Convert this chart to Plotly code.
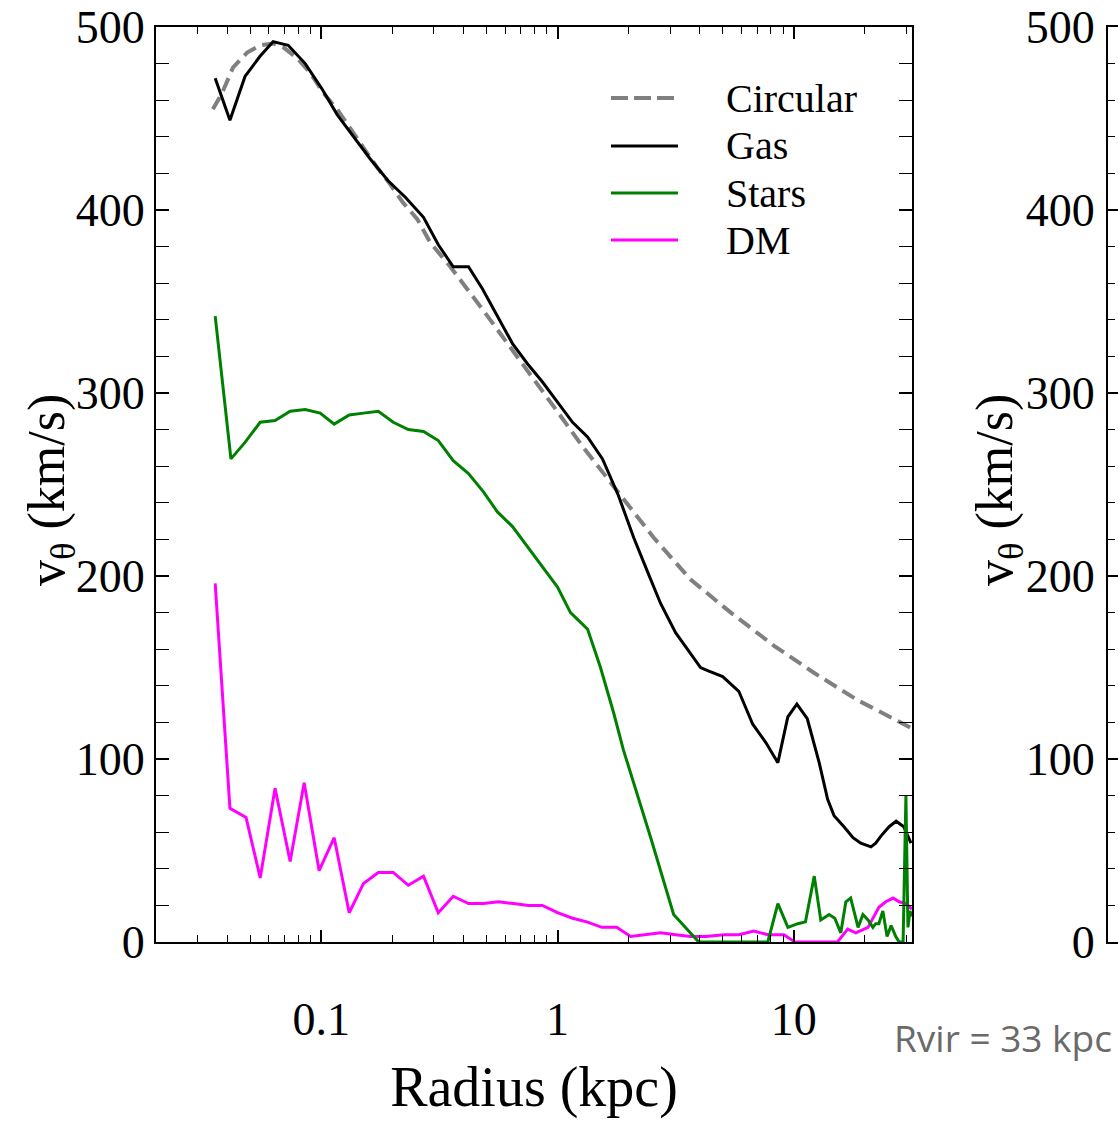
import plotly.graph_objects as go

W, H = 1118, 1121

# ---------------- data ----------------
circ_r = [0.0348, 0.0381, 0.0424, 0.0486, 0.0552, 0.0626, 0.0690, 0.0791, 0.0898, 0.102,
          0.117, 0.133, 0.151, 0.173, 0.196, 0.222, 0.255, 0.290, 0.352, 0.486,
          0.677, 0.934, 1.29, 1.85, 2.55, 3.66, 5.41, 8.22, 12.2, 18.7, 31.3]
circ_v = [455, 464, 478, 486, 490, 491, 489, 483, 475, 464,
          455, 444, 434, 423, 414, 404, 395, 382, 369, 345,
          320, 295, 270, 244, 221, 198, 180, 162, 147, 132, 117]

gas_r = [0.0356, 0.0411, 0.0476, 0.0551, 0.0626, 0.0725, 0.0856, 0.101, 0.117, 0.137,
         0.161, 0.192, 0.227, 0.271, 0.313, 0.362, 0.420, 0.481, 0.557, 0.645,
         0.746, 0.864, 1.0, 1.158, 1.34, 1.55, 1.81, 2.10, 2.41, 2.73,
         3.16, 3.56, 4.03, 4.37, 5.0, 5.85, 6.70, 7.61, 8.56, 9.43,
         10.3, 11.4, 12.8, 13.9, 14.8, 16.3, 17.8, 19.2, 21.2, 22.2,
         23.4, 25.3, 27.1, 29.2, 31.3]
gas_v = [472, 449, 473, 484, 492, 490, 480, 466, 452, 440,
         428, 416, 407, 396, 381, 369, 369, 357, 342, 327,
         316, 306, 295, 284, 276, 264, 244, 221, 202, 185,
         169, 160, 150, 148, 145, 137, 119, 109, 98, 123,
         130, 122, 98, 78, 69, 63, 57, 54, 52, 54,
         58, 63, 66, 63, 54]

stars_r = [0.0356, 0.0415, 0.0476, 0.0552, 0.0638, 0.0739, 0.0856, 0.099, 0.1135, 0.1314,
           0.151, 0.1745, 0.2018, 0.2337, 0.271, 0.313, 0.362, 0.420, 0.486, 0.557,
           0.645, 0.746, 0.864, 1.0, 1.135, 1.34, 1.52, 1.73, 1.90, 2.10,
           2.48, 3.10, 3.96, 7.76, 8.56, 9.44, 10.4, 11.2, 12.2, 13.0,
           14.1, 14.9, 15.8, 16.6, 17.4, 18.7, 19.6, 20.6, 21.6, 22.2,
           22.9, 23.8, 24.8, 25.8, 27.0, 27.9, 29.0, 29.8, 30.4, 31.0, 31.6]
stars_v = [342, 264, 273, 284, 285, 290, 291, 289, 283, 288,
           289, 290, 284, 280, 279, 274, 263, 256, 246, 235,
           227, 216, 205, 194, 180, 171, 150, 125, 105, 87,
           57, 15, 0, 0, 21, 8, 10, 11, 36, 12,
           15, 13, 5, 22, 24, 8, 15, 12, 8, 10,
           10, 17, 3, 9, 3, 0, 0, 80, 8, 17, 14]

dm_r = [0.0356, 0.0411, 0.0481, 0.0552, 0.0638, 0.0739, 0.0847, 0.098, 0.1135, 0.1314,
        0.151, 0.1745, 0.2018, 0.2337, 0.271, 0.313, 0.362, 0.420, 0.486, 0.562,
        0.651, 0.754, 0.863, 1.0, 1.158, 1.33, 1.54, 1.78, 2.04, 2.36,
        2.73, 3.16, 3.66, 4.24, 5.05, 5.85, 6.77, 7.76, 9.08, 10.1,
        15.3, 16.9, 18.3, 20.6, 22.9, 24.5, 26.3, 27.9, 29.8, 31.6]
dm_v = [196, 73, 68, 35, 84, 44, 87, 39, 57, 16,
        32, 38, 38, 31, 36, 16, 25, 21, 21, 22,
        21, 20, 20, 16, 13, 11, 8, 8, 3, 4,
        5, 4, 3, 3, 4, 4, 6, 4, 4, 0,
        0, 7, 5, 8, 19, 22, 24, 22, 21, 18]

series_names = ["Circular", "Gas", "Stars", "DM"]
x_tick_vals = [0.1, 1, 10]
x_tick_text = ["0.1", "1", "10"]
x_minor_vals = [0.02, 0.03, 0.04, 0.05, 0.06, 0.07, 0.08, 0.09,
                0.2, 0.3, 0.4, 0.5, 0.6, 0.7, 0.8, 0.9,
                2, 3, 4, 5, 6, 7, 8, 9, 20, 30]
y_tick_vals = [0, 100, 200, 300, 400, 500]
x_title = "Radius (kpc)"
y_title = "v<sub>θ</sub> (km/s)"
note_text = "Rvir = 33 kpc"

# ---------------- styling ----------------
SERIF = "Liberation Serif, Times New Roman, serif"
colors = {"Circular": "#808080", "Gas": "#000000", "Stars": "#008000", "DM": "#FF00FF"}
dashes = {"Circular": "14px,7px", "Gas": "solid", "Stars": "solid", "DM": "solid"}
widths = {"Circular": 4, "Gas": 3, "Stars": 3, "DM": 3}
XRANGE = [-1.699, 1.5]


def px_x(p):
    return p / W


def px_y(p):
    return 1 - p / H


fig = go.Figure()
data = {"Circular": (circ_r, circ_v), "Gas": (gas_r, gas_v),
        "DM": (dm_r, dm_v), "Stars": (stars_r, stars_v)}
for name in ["Circular", "Gas", "DM", "Stars"]:
    r, v = data[name]
    fig.add_trace(go.Scatter(x=r, y=v, mode="lines", name=name, showlegend=False,
                             line=dict(color=colors[name], width=widths[name], dash=dashes[name])))

# empty traces: second (cut-off) panel, and overlay axis carrying the x tick labels
fig.add_trace(go.Scatter(x=[], y=[], xaxis="x2", yaxis="y2", showlegend=False))
fig.add_trace(go.Scatter(x=[], y=[], xaxis="x3", yaxis="y", showlegend=False))

xdom = [px_x(156), px_x(912)]
ydom = [px_y(942), px_y(27)]
yminor = dict(ticks="inside", ticklen=7, tickcolor="black", tickwidth=1.2, dtick=20, showgrid=False)

fig.update_layout(
    width=W, height=H,
    margin=dict(l=0, r=0, t=0, b=0),
    paper_bgcolor="white", plot_bgcolor="white",
    showlegend=False,
    xaxis=dict(type="log", range=XRANGE, domain=xdom, anchor="y",
               tickmode="array", tickvals=x_tick_vals, showticklabels=False,
               ticks="inside", ticklen=12, tickwidth=1.5, tickcolor="black",
               minor=dict(ticks="inside", ticklen=7, tickcolor="black", tickwidth=1.2,
                          tickmode="array", tickvals=x_minor_vals, showgrid=False),
               showline=True, linecolor="black", linewidth=2, mirror="allticks",
               showgrid=False, zeroline=False),
    xaxis3=dict(type="log", range=XRANGE, domain=xdom, overlaying="x", anchor="y", side="bottom",
                tickmode="array", tickvals=x_tick_vals, ticktext=x_tick_text,
                ticks="", showline=False, showgrid=False, zeroline=False,
                tickfont=dict(family=SERIF, size=46, color="black"),
                ticklabelstandoff=46,
                title=dict(text=x_title, font=dict(family=SERIF, size=56, color="black"),
                           standoff=22)),
    yaxis=dict(range=[0, 500], domain=ydom, tickvals=y_tick_vals, ticklen=13,
               minor=yminor, anchor="x",
               ticks="inside", tickwidth=1.5, tickcolor="black",
               showline=True, linecolor="black", linewidth=2, mirror="allticks",
               showgrid=False, zeroline=False, automargin=False,
               tickfont=dict(family=SERIF, size=46, color="black"),
               ticklabelstandoff=0),
    xaxis2=dict(domain=[px_x(1108), 1.0], range=[0, 1], showline=True, linecolor="black",
                linewidth=2, mirror=True, ticks="", showticklabels=False, showgrid=False,
                zeroline=False, anchor="y2", automargin=False),
    yaxis2=dict(range=[0, 500], domain=ydom, tickvals=y_tick_vals, ticklen=13,
                minor=yminor,
                tickfont=dict(family=SERIF, size=46, color="black"),
                ticklabelstandoff=2,
                showline=True, linecolor="black", linewidth=2, ticks="inside", tickcolor="black",
                tickwidth=1.5, showgrid=False, zeroline=False, anchor="x2", automargin=False),
)

# manual legend (samples + labels)
leg_rows = [98, 146, 193, 240]
shapes = []
annotations = []
for name, yy in zip(series_names, leg_rows):
    shapes.append(dict(type="line", xref="paper", yref="paper",
                       x0=px_x(611), x1=px_x(678), y0=px_y(yy), y1=px_y(yy),
                       line=dict(color=colors[name], width=widths[name],
                                 dash=("17px,6px" if name == "Circular" else "solid"))))
    annotations.append(dict(xref="paper", yref="paper", x=px_x(724), y=px_y(yy),
                            text=name, showarrow=False, xanchor="left", yanchor="middle",
                            font=dict(family=SERIF, size=40, color="black")))

# y-axis titles (rotated) for both panels
for cx in (50, 998):
    annotations.append(dict(xref="paper", yref="paper", x=px_x(cx), y=px_y(490),
                            text=y_title, textangle=-90, showarrow=False,
                            xanchor="center", yanchor="middle",
                            font=dict(family=SERIF, size=52, color="black")))

annotations.append(dict(xref="paper", yref="paper", x=px_x(1114), y=px_y(1037),
                        text=note_text, showarrow=False, xanchor="right", yanchor="middle",
                        font=dict(family="Open Sans, sans-serif", size=37, color="#6a6a6a")))

fig.update_layout(shapes=shapes, annotations=annotations)

fig.write_html("out.html")
